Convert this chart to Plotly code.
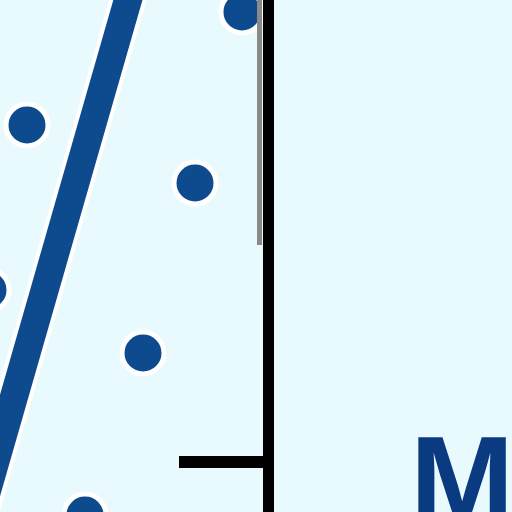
"""
Zoomed scatter with a fitted line and a right-side axis, recreated in Plotly.
"""

import plotly.graph_objects as go

# 점 데이터
pts_x = [0.27, 1.95, 1.43, 0.85, 2.42, -0.12]
pts_y = [3.87, 3.29, 1.59, -0.03, 5.00, 2.22]

# 추세선 양 끝
fit_x = [-0.3, 1.5]
fit_y = [-0.38, 5.89]

# 축 눈금
y_ticks = [0.5]

label_text = "M"

BG_CLR = "#E9FAFE"
BLUE_CLR = "#0D4A8E"
TEXT_CLR = "#0A3A80"

fig = go.Figure()

# 흰색 테두리 효과용 바탕 선
fig.add_trace(
    go.Scatter(
        x=fit_x, y=fit_y, mode="lines",
        line=dict(color="white", width=36),
        hoverinfo="skip", showlegend=False,
    )
)
fig.add_trace(
    go.Scatter(
        x=fit_x, y=fit_y, mode="lines",
        line=dict(color=BLUE_CLR, width=28),
        showlegend=False,
    )
)
fig.add_trace(
    go.Scatter(
        x=pts_x, y=pts_y, mode="markers",
        marker=dict(size=42, color=BLUE_CLR, line=dict(color="white", width=5)),
        showlegend=False,
    )
)

fig.add_annotation(
    text=label_text,
    xref="paper", yref="paper",
    x=408 / 512, y=1 - 408 / 512,
    xanchor="left", yanchor="top",
    showarrow=False,
    font=dict(family="Liberation Sans", size=125, color=TEXT_CLR, weight="bold"),
)

# 축선 위쪽의 회색 줄무늬
fig.add_shape(
    type="line", xref="paper", yref="paper",
    x0=259.5 / 512, x1=259.5 / 512, y0=1 - 245 / 512, y1=1,
    line=dict(color="#8A8A8A", width=5),
)

fig.update_layout(
    width=512,
    height=512,
    margin=dict(t=0, b=0, l=0, r=0),
    paper_bgcolor=BG_CLR,
    plot_bgcolor=BG_CLR,
    xaxis=dict(
        domain=[0, 263 / 512],
        range=[0, 2.63],
        showgrid=False, zeroline=False, showticklabels=False, ticks="",
    ),
    yaxis=dict(
        side="right",
        range=[0, 5.12],
        showgrid=False, zeroline=False,
        showline=True, linecolor="black", linewidth=11,
        ticks="inside", ticklen=84, tickwidth=12, tickcolor="black",
        tickvals=y_ticks, showticklabels=False,
    ),
)

# 페이지 기본 여백 제거, 모드바 숨김
fig.write_html(
    "out.html",
    config={"displayModeBar": False},
    post_script="document.body.style.margin='0';",
)
